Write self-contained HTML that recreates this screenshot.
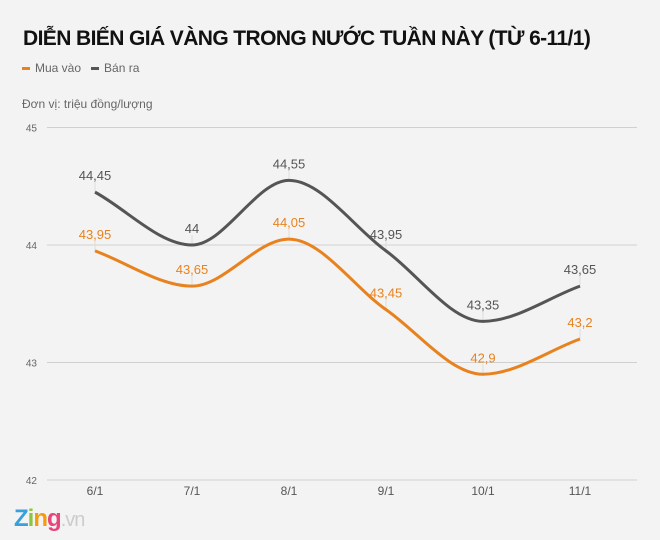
<!DOCTYPE html>
<html><head><meta charset="utf-8">
<style>
body{margin:0;background:#f3f3f3;font-family:"Liberation Sans",sans-serif;}
#wrap{position:relative;width:660px;height:540px;background:#f3f3f3;overflow:hidden}
.title{position:absolute;left:23px;top:27px;font-size:21px;font-weight:bold;color:#111;letter-spacing:-0.6px;white-space:nowrap}
.legend{position:absolute;left:22px;top:61px;font-size:12px;color:#666}
.legend span{display:inline-block;width:8px;height:3px;vertical-align:middle;margin-right:5px}
.unit{position:absolute;left:22px;top:97px;font-size:12px;color:#666}
</style></head><body>
<div id="wrap">
<div class="title">DIỄN BIẾN GIÁ VÀNG TRONG NƯỚC TUẦN NÀY (TỪ 6-11/1)</div>
<div class="legend"><span style="background:#e8821e"></span>Mua vào &nbsp; <span style="background:#555"></span>Bán ra</div>
<div class="unit">Đơn vị: triệu đồng/lượng</div>
<svg id="chart" width="660" height="540" style="position:absolute;left:0;top:0"></svg>
<div style="position:absolute;left:14px;top:505px;font-size:24px;font-weight:bold;letter-spacing:-1px"><span style="color:#3aa0dc">Z</span><span style="color:#8cc63f">i</span><span style="color:#f39c12">n</span><span style="color:#e8457a">g</span><span style="color:#ccc;font-weight:normal;font-size:20px">.vn</span></div>
</div>
<script>
const categories=["6/1","7/1","8/1","9/1","10/1","11/1"];
const buy=[43.95,43.65,44.05,43.45,42.9,43.2];
const sell=[44.45,44,44.55,43.95,43.35,43.65];
const yTicks=[42,43,44,45];
const svg=document.getElementById('chart');
const NS='http://www.w3.org/2000/svg';
const x=i=>95+i*97;
const y=v=>480-(v-42)*117.5;
function mk(t,a){const e=document.createElementNS(NS,t);for(const k in a)e.setAttribute(k,a[k]);svg.appendChild(e);return e;}
yTicks.forEach(t=>{
 const l=mk('line',{x1:47,x2:637,y1:y(t),y2:y(t),stroke:'#d0d0d0','stroke-width':1});
 
 
 const tx=mk('text',{x:37,y:y(t)+4,'font-size':10,fill:'#666','text-anchor':'end','font-family':'Liberation Sans'});
 tx.textContent=t;
 
 
});
categories.forEach((c,i)=>{
 const tx=mk('text',{x:x(i),y:495,'font-size':12,fill:'#555','text-anchor':'middle','font-family':'Liberation Sans'});
 tx.textContent=c;
 
 
});
function monotone(pts){
 const n=pts.length,d=[],m=[];
 for(let i=0;i<n-1;i++)d.push((pts[i+1][1]-pts[i][1])/(pts[i+1][0]-pts[i][0]));
 for(let i=0;i<n;i++){
  if(i==0)m.push(d[0]);else if(i==n-1)m.push(d[n-2]);
  else m.push(d[i-1]*d[i]<=0?0:(d[i-1]+d[i])/2);
 }
 let p='M'+pts[0][0]+','+pts[0][1];
 for(let i=0;i<n-1;i++){
  const h=(pts[i+1][0]-pts[i][0])/3;
  p+=` C${pts[i][0]+h},${pts[i][1]+m[i]*h} ${pts[i+1][0]-h},${pts[i+1][1]-m[i+1]*h} ${pts[i+1][0]},${pts[i+1][1]}`;
 }
 return p;
}
function series(vals,color,name){
 const pts=vals.map((v,i)=>[x(i),y(v)]);
 vals.forEach((v,i)=>{
  const l=mk('line',{x1:x(i),x2:x(i),y1:y(v)-10,y2:y(v),stroke:'#ddd','stroke-width':1});
  
  
 });
 const p=mk('path',{d:monotone(pts),fill:'none',stroke:color,'stroke-width':3});
 
 
 vals.forEach((v,i)=>{
  const t=mk('text',{x:x(i),y:y(v)-12,'font-size':13,fill:color,'text-anchor':'middle','font-family':'Liberation Sans'});
  t.textContent=String(v).replace('.',',');
  
  
 });
}
series(sell,'#555555','sell');
series(buy,'#e8821e','buy');
</script>
</body></html>
